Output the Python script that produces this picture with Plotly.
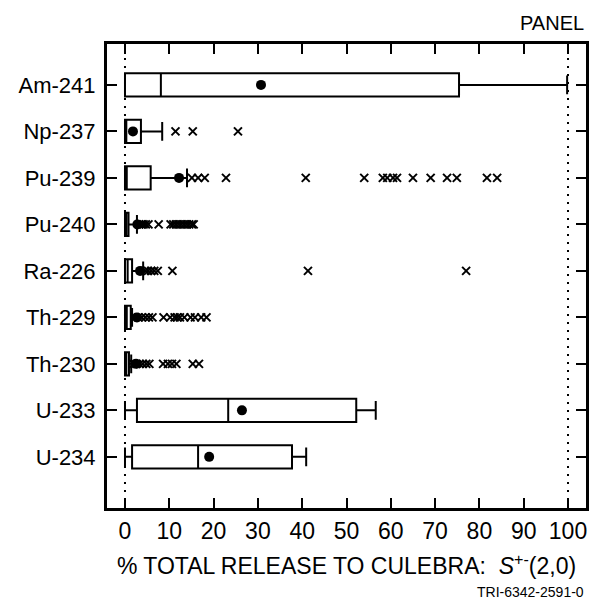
import plotly.graph_objects as go

# ---- data ----
nuclides = ["Am-241", "Np-237", "Pu-239", "Pu-240", "Ra-226", "Th-229", "Th-230", "U-233", "U-234"]
lower_fence = [0.0, 0.0, 0.0, 0.0, 0.0, 0.0, 0.0, 0.0, 0.0]
q1 = [0.0, 0.0, 0.0, 0.0, 0.0, 0.0, 0.0, 2.7, 1.6]
median = [8.1, 0.3, 0.4, 0.3, 0.6, 0.4, 0.3, 23.3, 16.5]
q3 = [75.4, 3.6, 5.8, 0.8, 1.6, 1.3, 0.9, 52.2, 37.7]
upper_fence = [99.8, 8.4, 14.0, 2.7, 4.1, 1.6, 1.4, 56.6, 40.9]
means = [30.7, 1.8, 12.2, 2.8, 3.4, 2.7, 2.5, 26.4, 19.0]

outliers = {
    "Am-241": [],
    "Np-237": [11.4, 15.3, 25.5],
    "Pu-239": [15.1, 16.5, 18.0, 22.8, 40.8, 54.0, 58.2, 59.2, 60.5, 61.4, 65.0,
               69.0, 72.7, 74.9, 81.7, 84.0],
    "Pu-240": [3.2, 3.7, 4.2, 4.7, 5.3, 7.6, 10.3, 10.9, 11.5, 12.1, 12.7, 13.3,
               13.9, 14.5, 15.1, 15.5],
    "Ra-226": [4.6, 5.2, 5.9, 6.6, 7.4, 10.7, 41.3, 77.0],
    "Th-229": [2.2, 3.0, 3.8, 4.6, 5.4, 6.2, 8.7, 10.2, 11.2, 11.8, 12.4, 13.4,
               14.8, 15.8, 17.2, 18.4],
    "Th-230": [1.9, 2.6, 3.3, 4.0, 4.8, 5.5, 8.6, 9.7, 10.6, 11.6, 15.3, 16.7],
    "U-233": [],
    "U-234": [],
}
x_ticks = [0, 10, 20, 30, 40, 50, 60, 70, 80, 90, 100]

FONT = "Liberation Sans, Arial, Helvetica, sans-serif"

fig = go.Figure()

fig.add_trace(go.Box(
    y=nuclides, q1=q1, median=median, q3=q3,
    lowerfence=lower_fence, upperfence=upper_fence,
    orientation="h", boxpoints=False,
    fillcolor="white", line=dict(color="black", width=2),
    width=0.5, whiskerwidth=0.8, showlegend=False, hoverinfo="skip",
))

out_x, out_y = [], []
for n in nuclides:
    for v in outliers[n]:
        out_x.append(v)
        out_y.append(n)

fig.add_trace(go.Scatter(
    x=out_x, y=out_y, mode="markers",
    marker=dict(symbol="x-thin-open", size=8, color="black",
                line=dict(color="black", width=2)),
    showlegend=False, hoverinfo="skip",
))

fig.add_trace(go.Scatter(
    x=means, y=nuclides, mode="markers",
    marker=dict(symbol="circle", size=10, color="black"),
    showlegend=False, hoverinfo="skip",
))

for xv in (0, 100):
    fig.add_shape(type="line", xref="x", yref="paper", x0=xv, x1=xv, y0=0, y1=1,
                  line=dict(color="black", width=2, dash="2px,6px"), layer="below")

fig.update_layout(
    width=595, height=605,
    margin=dict(l=99, r=17, t=36, b=105),
    paper_bgcolor="white", plot_bgcolor="white",
    font=dict(family=FONT, size=22, color="black"),
    xaxis=dict(
        range=[-4.06, 104.06], tickmode="array", tickvals=x_ticks,
        ticks="inside", ticklen=10, tickwidth=2, tickcolor="black",
        tickfont=dict(size=23),
        showline=True, linewidth=3, linecolor="black", mirror="ticks",
        showgrid=False, zeroline=False,
        title=dict(text="% TOTAL RELEASE TO CULEBRA:  <i>S</i><sup>+-</sup>(2,0)",
                   font=dict(size=23), standoff=16),
    ),
    yaxis=dict(
        type="category", categoryorder="array", categoryarray=nuclides,
        range=[9.1, -0.88],
        ticks="inside", ticklen=10, tickwidth=2, tickcolor="black",
        tickfont=dict(size=22),
        showline=True, linewidth=3, linecolor="black", mirror="ticks",
        showgrid=False, zeroline=False, ticklabelstandoff=4,
    ),
    annotations=[
        dict(text="PANEL", xref="paper", yref="paper", x=1.0, y=1.0,
             xanchor="right", yanchor="bottom", yshift=8, showarrow=False,
             font=dict(size=20)),
        dict(text="TRI-6342-2591-0", xref="paper", x=1.0, xanchor="right",
             yref="paper", y=0, yanchor="middle", yshift=-84, showarrow=False,
             font=dict(size=14)),
    ],
)

fig.write_html("out.html")
